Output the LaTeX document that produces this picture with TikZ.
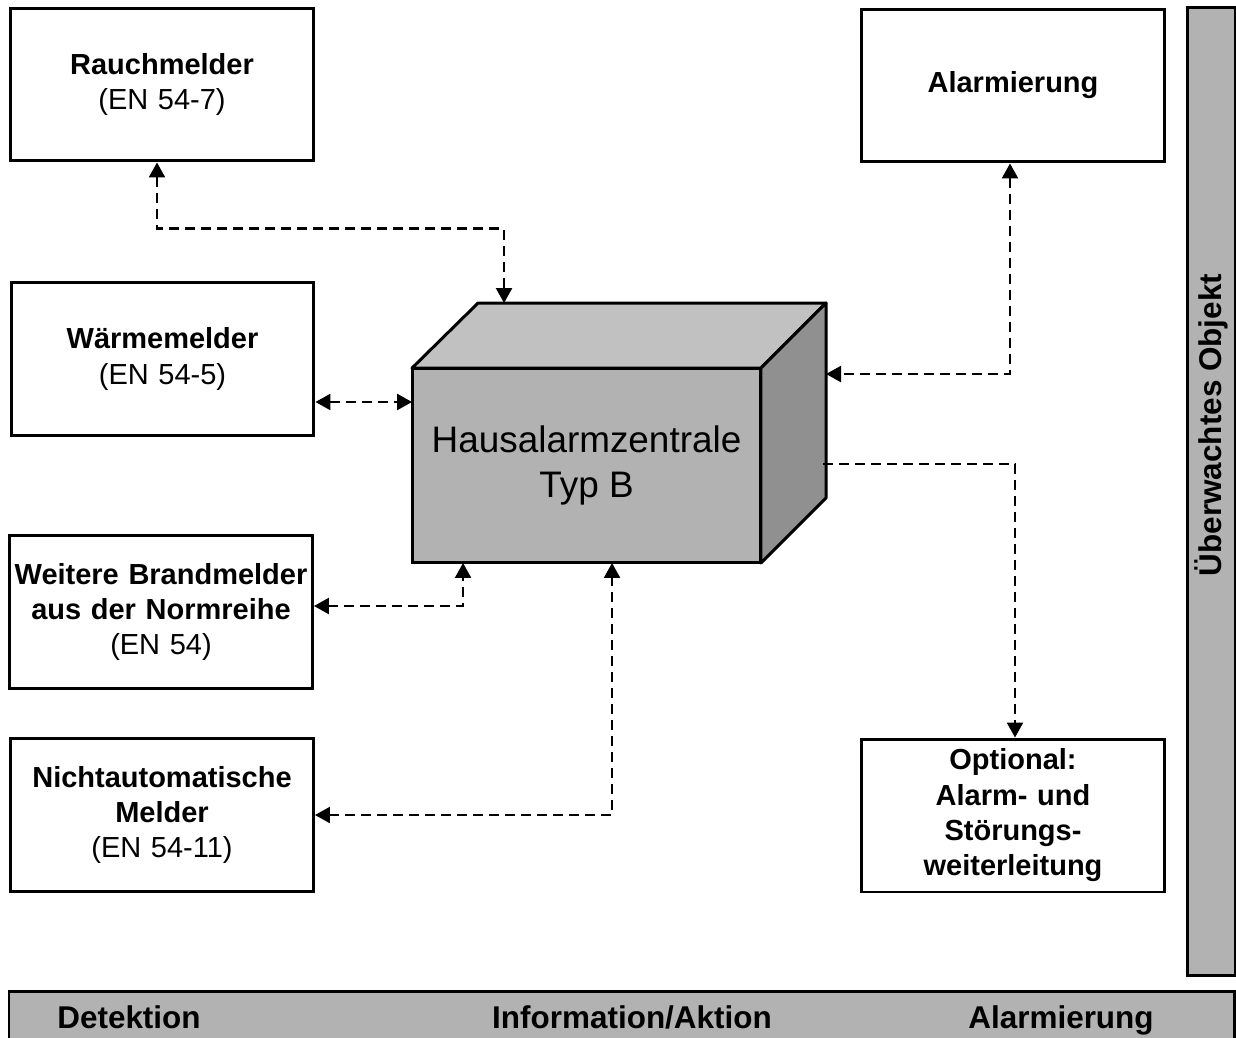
\documentclass[tikz,border=0pt]{standalone}
\usepackage{fontspec}
\setmainfont{Liberation Sans}
\usetikzlibrary{arrows.meta,calc}

\definecolor{balken}{gray}{0.70}
\definecolor{vorne}{gray}{0.70}
\definecolor{oben}{gray}{0.755}
\definecolor{seite}{gray}{0.565}

\tikzset{
    melder/.style={draw, line width=1.7pt, fill=white, minimum width=6.06cm,
        minimum height=3.06cm, text width=5.95cm, align=center, inner sep=0pt,
        font=\fontsize{16.5}{20.1}\selectfont},
    link/.style={line width=1.35pt, dash pattern=on 0.2cm off 0.12cm},
    bar/.style={draw, line width=1.7pt, fill=balken, outer sep=0pt, inner sep=0pt},
    phase/.style={anchor=base, font=\bfseries\fontsize{17.9}{20}\selectfont},
    >={Triangle[length=0.3cm,width=0.32cm]}
}

\begin{document}
\begin{tikzpicture}[x=0.02cm, y=-0.02cm]
        \useasboundingbox (0,0) rectangle (1236,1037);
        % ==== MELDER ====
        \node[melder] (rauch) at (162,84.5) {\textbf{Rauchmelder}\\(EN 54-7)};
        \node[melder] (waerme) at (162.5,359) {\textbf{Wärmemelder}\\(EN 54-5)};
        \node[melder] (weitere) at (161,612) {\textbf{Weitere Brandmelder}\\\textbf{aus der Normreihe}\\(EN 54)};
        \node[melder] (nicht) at (162,815) {\textbf{Nichtautomatische}\\\textbf{Melder}\\(EN 54-11)};
        \node[melder] (alarm) at (1013,85.5) {\textbf{Alarmierung}};
        \node[melder] (optional) at (1013,815.5) {\textbf{Optional:}\\\textbf{Alarm- und}\\\textbf{Störungs-}\\\textbf{weiterleitung}};

        % ==== ZENTRALE ====
        \node[draw, line width=1.7pt, fill=vorne, outer sep=0pt, minimum width=6.98cm,
            minimum height=3.9cm, align=center, font=\fontsize{21}{25.5}\selectfont]
            (zentrale) at (586.5,465.5) {Hausalarmzentrale\\Typ B};
        \draw[line width=1.7pt, fill=oben, line join=round] (zentrale.north west) -- ++(66,-65)
            -- ++(348,0) coordinate (rb) -- (zentrale.north east) -- cycle;
        \draw[line width=1.7pt, fill=seite, line join=round] (zentrale.north east) -- (rb)
            -- ++(0,195) -- (zentrale.south east) -- cycle;
        \coordinate (ztop) at ($(zentrale.north west)+(92,-65)$);

        % ==== VERBINDUNGEN ====
        \draw[link,<->] ($(rauch.south)+(-5,0)$) -- ++(0,66) -| (ztop);
        \draw[link,<->] ($(waerme.east)+(0,43)$) coordinate (w) -- (w -| zentrale.west);
        \draw[link,<->] ($(weitere.east)+(0,-6)$) -| ($(zentrale.south west)+(51,0)$);
        \draw[link,<->] (nicht.east) -| ($(zentrale.south west)+(200,0)$);
        \draw[link,<->] ($(alarm.south)+(-3,0)$) |- ($(rb)+(0,71)$);
        \draw[link,->] ($(rb)+(-3,161)$) -| ($(optional.north)+(2,0)$);

        % ==== BALKEN ====
        \node[bar, minimum width=0.96cm, minimum height=19.38cm] (objekt) at (1211,491.5) {};
        \node[rotate=90, font=\bfseries\fontsize{17.9}{20}\selectfont] (objekttext) at (1211,425) {Überwachtes Objekt};
        \node[bar, anchor=north west, minimum width=24.52cm, minimum height=1.5cm] (phasen) at (9,991) {};
        \node[phase] (detektion) at (129,1028) {Detektion};
        \node[phase] (info) at (632,1028) {Information/Aktion};
        \node[phase] (alarmierung) at (1061,1028) {Alarmierung};
\end{tikzpicture}
\end{document}
